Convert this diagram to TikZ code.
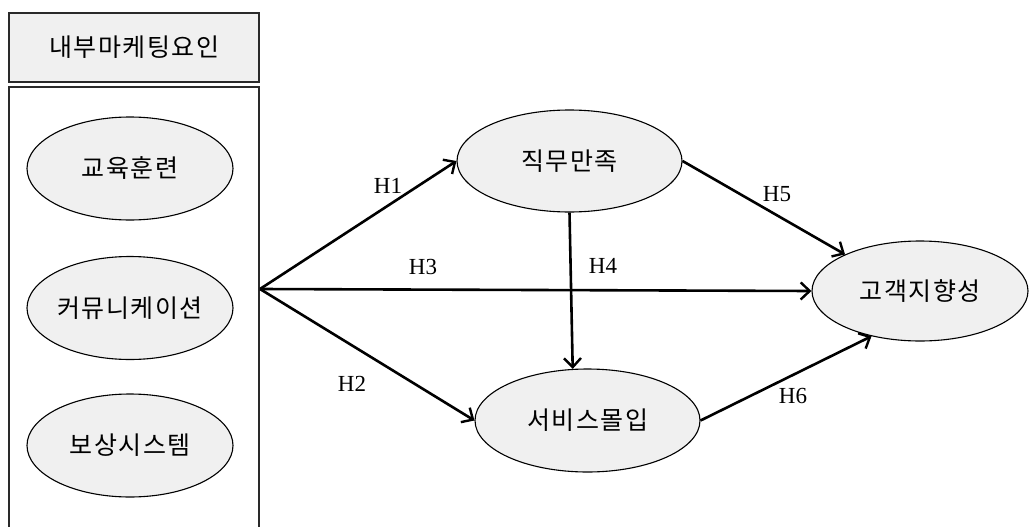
\documentclass[tikz,border=0pt]{standalone}
\usepackage{fontspec}
\setmainfont{Liberation Serif}
\newfontfamily\kr[LetterSpace=6]{Noto Sans CJK KR}
\usetikzlibrary{arrows.meta,shapes.geometric}
\definecolor{fillgray}{HTML}{F0F0F0}
\definecolor{linegray}{HTML}{2A2A2A}
\newcommand\zw[1]{\makebox[0pt]{#1}}
\tikzset{
  oval/.style={ellipse, draw=black, line width=1.1pt, fill=fillgray, inner sep=0pt,
    font=\kr\fontsize{25}{29}\selectfont},
  boxframe/.style={draw=linegray, line width=1.6pt, inner sep=0pt},
  arr/.style={line width=2.6pt, -{Straight Barb[length=9pt,width=17pt,line width=2.4pt]}},
  hyp/.style={inner sep=0pt, font=\fontsize{23}{26}\selectfont}
}
\begin{document}
\begin{tikzpicture}[x=1pt,y=-1pt]
\useasboundingbox (0,0) rectangle (1030,527);
\clip (0,0) rectangle (1030,527);
\fill[white] (0,0) rectangle (1030,527);
% left group
\node[boxframe, fill=fillgray, minimum width=250pt, minimum height=69pt, anchor=north,
  font=\kr\fontsize{25}{29}\selectfont] (hdr) at (134,12) {내부마케팅요인};
\node[boxframe, fill=white, minimum width=250pt, minimum height=480pt, anchor=north] (grp) at (134,86) {};
\node[oval, minimum width=206pt, minimum height=103pt] (e1) at (130,168.5) {\zw{교육훈련}};
\node[oval, minimum width=206pt, minimum height=103pt] (e2) at (130,308) {\zw{커뮤니케이션}};
\node[oval, minimum width=206pt, minimum height=103pt] (e3) at (130,445.5) {\zw{보상시스템}};
% right part
\node[oval, minimum width=225pt, minimum height=102pt] (js) at (569.5,161) {\zw{직무만족}};
\node[oval, minimum width=225pt, minimum height=103pt] (sv) at (587.5,420.5) {\zw{서비스몰입}};
\node[oval, minimum width=216pt, minimum height=100pt] (co) at (920,291) {\zw{고객지향성}};
\coordinate (o) at (260,289);
% connectors
\draw[arr] (o) -- (js.west);
\draw[arr] (o) -- (co.west);
\draw[arr] (o) -- (sv.west);
\draw[arr] (js.south) -- (sv.106);
\draw[arr] (js.east) -- (co.154);
\draw[arr] (sv.east) -- (co.223);
% labels
\node[hyp] (h1) at (388,186) {H1};
\node[hyp] (h2) at (352,384) {H2};
\node[hyp] (h3) at (423,267) {H3};
\node[hyp] (h4) at (603,266) {H4};
\node[hyp] (h5) at (777,194) {H5};
\node[hyp] (h6) at (793,396) {H6};
\end{tikzpicture}
\end{document}
